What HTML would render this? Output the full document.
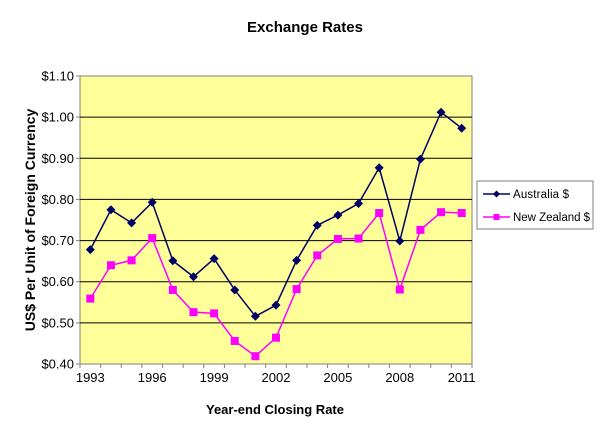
<!DOCTYPE html>
<html><head><meta charset="utf-8"><style>
body{margin:0;background:#fff;font-family:"Liberation Sans",Arial,sans-serif}
svg text{font-family:"Liberation Sans",Arial,sans-serif}
</style></head><body>
<svg id="chart" width="600" height="439" viewBox="0 0 600 439">
<rect width="600" height="439" fill="#fff"/>
<text x="305" y="32" text-anchor="middle" font-size="15" font-weight="bold">Exchange Rates</text>
<rect x="80" y="76" width="392" height="288" fill="#ffff99" stroke="#808080" stroke-width="1"/>
<g id="grid"></g><g id="axes"></g><g id="series"></g>
<text x="275" y="414" text-anchor="middle" font-size="13" font-weight="bold">Year-end Closing Rate</text>
<text transform="translate(35,220) rotate(-90)" text-anchor="middle" font-size="14" font-weight="bold">US$ Per Unit of Foreign Currency</text>
<g>
<rect x="477" y="181" width="116" height="48" fill="#fff" stroke="#808080"/>
<g>
<line x1="483" y1="194" x2="510" y2="194" stroke="#000066" stroke-width="1.5"/>
<path d="M496.5 190.5 L500 194 L496.5 197.5 L493 194Z" fill="#000066"/>
<text x="513" y="198" font-size="11.5" textLength="56">Australia $</text></g>
<g>
<line x1="483" y1="217" x2="510" y2="217" stroke="#ff00ff" stroke-width="1.5"/>
<rect x="493.5" y="214" width="6" height="6" fill="#ff00ff"/>
<text x="513" y="221" font-size="11.5" textLength="77">New Zealand $</text></g>
</g>
</svg>
<script>
const years=[1993,1994,1995,1996,1997,1998,1999,2000,2001,2002,2003,2004,2005,2006,2007,2008,2009,2010,2011];
const australia=[0.678,0.775,0.743,0.793,0.651,0.612,0.656,0.580,0.516,0.543,0.652,0.737,0.762,0.790,0.877,0.699,0.898,1.012,0.973];
const newZealand=[0.559,0.640,0.652,0.706,0.580,0.526,0.523,0.456,0.419,0.464,0.582,0.664,0.704,0.705,0.767,0.581,0.726,0.769,0.767];
const yTicks=[0.4,0.5,0.6,0.7,0.8,0.9,1.0,1.1];
const yTickLabels=["$0.40","$0.50","$0.60","$0.70","$0.80","$0.90","$1.00","$1.10"];
const xLabelEvery=3;
const L=80,R=472,T=76,B=364,yMin=0.4,yMax=1.1;
const NS="http://www.w3.org/2000/svg";
const bw=(R-L)/years.length;
const xs=i=>L+bw*(i+0.5);
const ys=v=>B-(v-yMin)/(yMax-yMin)*(B-T);
function mk(tag,attrs,parent){const e=document.createElementNS(NS,tag);for(const k in attrs)e.setAttribute(k,attrs[k]);parent.appendChild(e);return e;}
const grid=document.getElementById('grid'),axes=document.getElementById('axes'),ser=document.getElementById('series');
yTicks.forEach((t,i)=>{const y=ys(t);
 if(i>0&&i<yTicks.length-1){const g=mk('line',{x1:L,x2:R,y1:y,y2:y,stroke:'#000','stroke-width':1},grid);
 
 }
 mk('line',{x1:L-4,x2:L,y1:y,y2:y,stroke:'#808080'},axes);
 const tx=mk('text',{x:L-6,y:y+4.5,'text-anchor':'end','font-size':'13'},axes);tx.textContent=yTickLabels[i];
 
 
});
for(let i=0;i<=years.length;i++){const x=L+bw*i;mk('line',{x1:x,x2:x,y1:B,y2:B+4,stroke:'#808080'},axes);}
years.forEach((yr,i)=>{if(i%xLabelEvery===0){const tx=mk('text',{x:xs(i),y:B+18,'text-anchor':'middle','font-size':'13'},axes);tx.textContent=yr;
 
 }});
function drawSeries(vals,color,name,square){
 const g=mk('g',{},ser);
 
 
 mk('polyline',{points:vals.map((v,i)=>xs(i)+','+ys(v)).join(' '),fill:'none',stroke:color,'stroke-width':1.5},g);
 vals.forEach((v,i)=>{const x=xs(i),y=ys(v);let m;
  if(square)m=mk('rect',{x:x-4,y:y-4,width:8,height:8,fill:color},g);
  else m=mk('path',{d:`M${x} ${y-4.5}L${x+4.5} ${y}L${x} ${y+4.5}L${x-4.5} ${y}Z`,fill:color},g);
  
  
 });
}
drawSeries(newZealand,'#ff00ff','new-zealand-series',true);
drawSeries(australia,'#000066','australia-series',false);
</script>
</body></html>
